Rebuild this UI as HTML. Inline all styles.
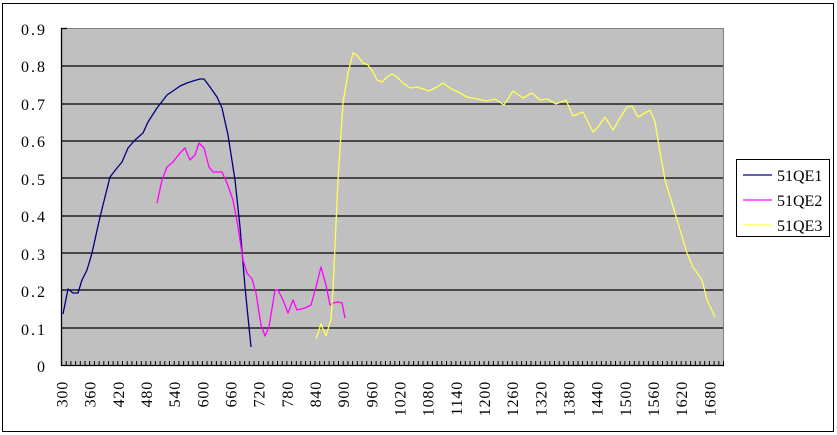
<!DOCTYPE html>
<html><head><meta charset="utf-8"><style>
html,body{margin:0;padding:0;background:#fff;}
svg{display:block;}
text{font-family:"Liberation Serif","Noto Serif CJK SC",serif;font-size:16px;fill:#000;}
.yl{letter-spacing:2px;}
.xt{letter-spacing:0.8px;}
</style></head><body>
<svg width="837" height="435" viewBox="0 0 837 435" xmlns="http://www.w3.org/2000/svg">
<rect x="2.5" y="3.5" width="831" height="428" fill="#fff" stroke="#000" stroke-width="1"/>
<rect x="61.5" y="28.5" width="662" height="337" fill="#c0c0c0" stroke="#808080" stroke-width="1"/>
<g stroke="#000" stroke-width="1.3">
<line x1="61" y1="66" x2="723" y2="66"/>
<line x1="61" y1="104" x2="723" y2="104"/>
<line x1="61" y1="141" x2="723" y2="141"/>
<line x1="61" y1="178" x2="723" y2="178"/>
<line x1="61" y1="216" x2="723" y2="216"/>
<line x1="61" y1="253" x2="723" y2="253"/>
<line x1="61" y1="290" x2="723" y2="290"/>
<line x1="61" y1="328" x2="723" y2="328"/>
<line x1="61" y1="365.5" x2="724" y2="365.5"/>
<line x1="61.5" y1="28" x2="61.5" y2="366"/>
<line x1="61" y1="28.5" x2="67" y2="28.5"/>
</g>
<g id="ticks" stroke="#000" stroke-width="1"></g>
<g text-anchor="end" class="yl">
<text x="47" y="35">0.9</text><text x="47" y="72">0.8</text><text x="47" y="110">0.7</text>
<text x="47" y="147">0.6</text><text x="47" y="185">0.5</text><text x="47" y="222">0.4</text>
<text x="47" y="260">0.3</text><text x="47" y="297">0.2</text><text x="47" y="335">0.1</text>
<text x="47" y="372">0</text>
</g>
<g id="xl" text-anchor="end" class="xt"></g>
<g fill="none" stroke-width="1.3" stroke-linejoin="round">
<polyline stroke="#000080" points="63,314 68,289 73,293 78,293 82,280 87,270 92,253 100,217 110,177 117,168 122,162 128,148 135,140 143,133 148,122 157,108 167,95 173,91 180,86 187,83 193,81 200,79 204,79 210,87 217,97 222,108 228,135 235,180 240,227 245,287 251,347"/>
<polyline stroke="#ff00ff" points="157,203 162,180 167,167 173,162 180,153 185,148 190,160 195,155 199,143 204,148 209,167 213,172 222,172 227,183 233,200 238,227 243,260 247,273 252,279 256,293 261,325 265,336 269,327 275,290 278,290 283,300 288,313 293,300 297,310 305,308 311,305 316,287 321,267 326,285 330,305 333,303 338,302 342,303 345,318"/>
<polyline stroke="#ffff55" points="316,339 321,324 326,336 331,319 333,290 338,180 343,103 348,73 353,53 357,55 363,63 368,65 373,72 377,80 382,82 387,77 392,74 397,77 403,83 410,88 417,87 423,89 429,91 437,87 443,83 450,88 460,93 467,97 477,99 487,101 495,99 504,105 513,91 523,98 532,93 540,100 547,99 556,104 566,100 573,116 583,112 593,132 598,127 605,117 613,130 620,118 627,107 632,106 638,117 645,113 650,110 655,122 658,140 665,180 675,213 687,253 693,267 702,280 707,300 715,317"/>
</g>
<rect x="736.5" y="159.5" width="93" height="77" fill="#fff" stroke="#000" stroke-width="1"/>
<line x1="743" y1="175" x2="772" y2="175" stroke="#000080" stroke-width="1.3"/>
<line x1="743" y1="200" x2="772" y2="200" stroke="#ff00ff" stroke-width="1.3"/>
<line x1="743" y1="225" x2="772" y2="225" stroke="#ffff55" stroke-width="1.3"/>
<text x="777" y="181">51QE1</text><text x="777" y="206">51QE2</text><text x="777" y="231">51QE3</text>
</svg>
<script>
var t=document.getElementById('ticks'),s='';
for(var i=0;i<=141;i++){var x=61.5+i*662/141;s+='<line x1="'+x.toFixed(1)+'" y1="361" x2="'+x.toFixed(1)+'" y2="366"/>';}
t.innerHTML=s;
var g=document.getElementById('xl'),h='';
for(var n=300;n<=1680;n+=60){var x=61+(n-300)/10*662/141+6.5;h+='<text transform="translate('+x.toFixed(1)+',381) rotate(-90)">'+n+'</text>';}
g.innerHTML=h;
</script>
</body></html>
